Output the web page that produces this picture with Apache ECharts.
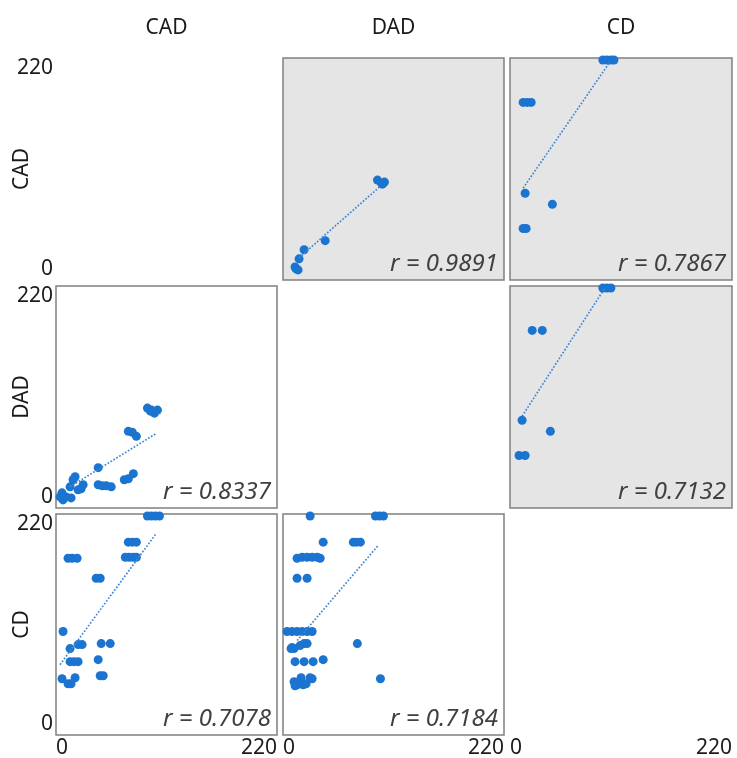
<!DOCTYPE html>
<html>
<head>
<meta charset="utf-8">
<script src="https://cdn.jsdelivr.net/npm/echarts@6/dist/echarts.min.js"></script>
<style>html,body{margin:0;padding:0;background:#fff}#c{width:737px;height:758px}</style>
</head>
<body>
<div id="c"></div>
<script>
// ---- data ----
const varNames = ['CAD', 'DAD', 'CD'];
const axisMin = 0;
const axisMax = 220;

// row CAD / col DAD (x = DAD, y = CAD)
const p01x = [94, 98, 101, 99, 42, 21, 16, 12, 15, 13];
const p01y = [99, 96, 97, 95, 39, 30, 21, 13, 10, 11];
const p01trend = [[16, 22], [97, 93]];
const p01r = 'r = 0.9891';

// row CAD / col CD (x = CD, y = CAD)
const p02x = [92, 96, 100, 103, 13, 17, 21, 15, 42, 13, 16];
const p02y = [218, 218, 218, 218, 176, 176, 176, 86, 75, 51, 51];
const p02trend = [[13, 91], [99, 216]];
const p02r = 'r = 0.7867';

// row DAD / col CD (x = CD, y = DAD)
const p12x = [92, 96, 100, 22, 32, 12, 40, 9, 15];
const p12y = [218, 218, 218, 176, 176, 87, 76, 52, 52];
const p12trend = [[12, 91], [94, 218]];
const p12r = 'r = 0.7132';

// row DAD / col CAD (x = CAD, y = DAD)
const p10x = [91, 95, 98, 101, 94, 72, 76, 80, 42, 42, 46, 50, 55, 68, 72, 77, 19, 17, 14, 25, 27, 6, 7, 10, 4, 15, 22];
const p10y = [99, 97, 94, 97, 96, 76, 75, 71, 40, 23, 22, 22, 21, 28, 29, 34, 31, 28, 21, 19, 23, 15, 8, 11, 11, 10, 18];
const p10trend = [[14, 21], [100, 74]];
const p10r = 'r = 0.8337';

// row CD / col CAD (x = CAD, y = CD)
const p20x = [91, 95, 99, 103, 72, 76, 80, 69, 73, 77, 80, 12, 16, 21, 40, 44, 7, 14, 22, 26, 45, 54, 14, 18, 22, 42, 6, 12, 15, 19, 44, 47];
const p20y = [218, 218, 218, 218, 192, 192, 192, 177, 177, 177, 177, 176, 176, 176, 156, 156, 103, 86, 90, 90, 91, 91, 73, 73, 73, 75, 56, 51, 51, 57, 59, 59];
const p20trend = [[4, 70], [100, 201]];
const p20r = 'r = 0.7078';

// row CD / col DAD (x = DAD, y = CD)
const p21x = [27, 92, 96, 100, 40, 70, 73, 77, 14, 19, 24, 29, 34, 37, 14, 24, 4, 9, 14, 19, 24, 29, 8, 11, 17, 21, 24, 9, 74, 12, 21, 30, 40, 11, 14, 18, 23, 27, 29, 12, 20, 97];
const p21y = [218, 218, 218, 218, 192, 192, 192, 192, 176, 177, 177, 177, 177, 176, 156, 156, 103, 103, 103, 103, 103, 103, 86, 86, 89, 91, 91, 87, 91, 73, 73, 73, 75, 53, 50, 57, 51, 57, 56, 49, 50, 56];
const p21trend = [[14, 94], [95, 189]];
const p21r = 'r = 0.7184';

// ---- layout ----
const cols = [{left: 56, width: 221}, {left: 283, width: 221}, {left: 510, width: 222}];
const rows = [{top: 58, height: 222}, {top: 286, height: 222}, {top: 514, height: 221}];
const FONT = 'Noto Sans';
const DOT = '#1b74cf';
const LINE = '#3f88d4';

const panels = [
  {r: 0, c: 1, x: p01x, y: p01y, t: p01trend, label: p01r, gray: true},
  {r: 0, c: 2, x: p02x, y: p02y, t: p02trend, label: p02r, gray: true},
  {r: 1, c: 2, x: p12x, y: p12y, t: p12trend, label: p12r, gray: true},
  {r: 1, c: 0, x: p10x, y: p10y, t: p10trend, label: p10r, gray: false},
  {r: 2, c: 0, x: p20x, y: p20y, t: p20trend, label: p20r, gray: false},
  {r: 2, c: 1, x: p21x, y: p21y, t: p21trend, label: p21r, gray: false}
];
const cells = [[0,0],[0,1],[0,2],[1,0],[1,2],[2,0],[2,1],[2,2]];

const grids = [], xAxes = [], yAxes = [], series = [], graphics = [];
cells.forEach(([r, c], gi) => {
  const p = panels.find(q => q.r === r && q.c === c);
  grids.push({
    left: cols[c].left, top: rows[r].top, width: cols[c].width, height: rows[r].height,
    show: !!p, borderColor: '#808080', borderWidth: 1.5,
    backgroundColor: p && p.gray ? '#e5e5e5' : 'transparent',
    containLabel: false, outerBoundsMode: 'none'
  });
  xAxes.push({
    gridIndex: gi, type: 'value', min: axisMin, max: axisMax, interval: axisMax - axisMin,
    position: r === 0 ? 'top' : 'bottom',
    axisLine: {show: false}, axisTick: {show: false}, splitLine: {show: false},
    axisLabel: {show: r === 2, margin: 3, fontSize: 21, fontFamily: FONT, color: '#1a1a1a',
      alignMinLabel: 'left', alignMaxLabel: 'right'},
    name: r === 0 ? varNames[c] : '', nameLocation: 'middle', nameGap: 19,
    nameMoveOverlap: false,
    nameTextStyle: {fontSize: 21, fontFamily: FONT, color: '#1a1a1a'}
  });
  yAxes.push({
    gridIndex: gi, type: 'value', min: axisMin, max: axisMax, interval: axisMax - axisMin,
    axisLine: {show: false}, axisTick: {show: false}, splitLine: {show: false},
    axisLabel: {show: c === 0, margin: 3, fontSize: 21, fontFamily: FONT, color: '#1a1a1a',
      verticalAlignMinLabel: 'bottom', verticalAlignMaxLabel: 'top'},
    name: c === 0 ? varNames[r] : '', nameLocation: 'middle', nameGap: 23, nameRotate: 90,
    nameMoveOverlap: false,
    nameTextStyle: {fontSize: 21, fontFamily: FONT, color: '#1a1a1a'}
  });
  if (p) {
    series.push({
      type: 'scatter', xAxisIndex: gi, yAxisIndex: gi, clip: false,
      symbolSize: 9, itemStyle: {color: DOT, opacity: 1},
      data: p.x.map((v, i) => [v, p.y[i]])
    });
    series.push({
      type: 'line', xAxisIndex: gi, yAxisIndex: gi, symbol: 'none', silent: true,
      lineStyle: {color: LINE, width: 1.7, type: 'dotted'},
      data: p.t
    });
    graphics.push({
      type: 'text',
      x: cols[c].left + cols[c].width - 6,
      y: rows[r].top + rows[r].height - 4,
      style: {text: p.label, align: 'right', verticalAlign: 'bottom',
        font: 'italic 24px "Noto Sans"', fill: '#404040'}
    });
  }
});

const chart = echarts.init(document.getElementById('c'), null, {renderer: 'canvas'});
chart.setOption({
  animation: false,
  backgroundColor: '#ffffff',
  grid: grids, xAxis: xAxes, yAxis: yAxes, series: series,
  graphic: graphics
});
</script>
</body>
</html>
